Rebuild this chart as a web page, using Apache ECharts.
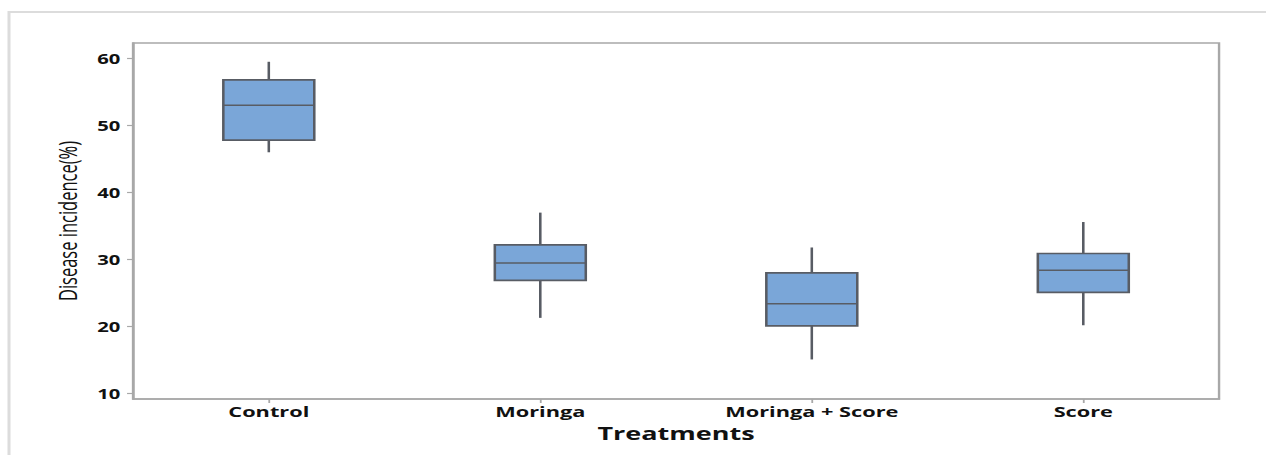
<!DOCTYPE html>
<html>
<head>
<meta charset="utf-8">
<script src="https://cdn.jsdelivr.net/npm/echarts@6/dist/echarts.min.js"></script>
<style>
  html, body { margin: 0; padding: 0; background: #ffffff; overflow: hidden; }
  /* The chart is laid out in a narrower frame and widened horizontally */
  #chart { width: 844px; height: 455px; transform: scaleX(1.5); transform-origin: 0 0; }
</style>
</head>
<body>
<div id="chart"></div>
<script>
// Treatments on the category axis
const categories = ['Control', 'Moringa', 'Moringa + Score', 'Score'];

// Five-number summaries of disease incidence (%) per treatment
const whiskerLow  = [46.0, 21.3, 15.1, 20.2];
const quartile1   = [47.8, 26.9, 20.1, 25.1];
const medians     = [53.0, 29.5, 23.4, 28.4];
const quartile3   = [56.8, 32.2, 28.0, 30.9];
const whiskerHigh = [59.5, 37.0, 31.8, 35.6];

// Y axis tick labels
const yTicks = [10, 20, 30, 40, 50, 60];

const boxData = categories.map((c, i) =>
  [i, whiskerLow[i], quartile1[i], medians[i], quartile3[i], whiskerHigh[i]]);

const chart = echarts.init(document.getElementById('chart'), null, { renderer: 'svg' });

const axisGray = '#a8a8a8';
const edgeGray = '#585c64';

function renderBox(params, api) {
  const idx = api.value(0);
  const pLow = api.coord([idx, api.value(1)]);
  const pQ1 = api.coord([idx, api.value(2)]);
  const pMed = api.coord([idx, api.value(3)]);
  const pQ3 = api.coord([idx, api.value(4)]);
  const pHigh = api.coord([idx, api.value(5)]);
  const w = api.size([1, 0])[0] * 0.335;
  const x = pMed[0];
  const lineStyle = { stroke: edgeGray, lineWidth: 1.7 };
  return {
    type: 'group',
    children: [
      { type: 'line', shape: { x1: x, y1: pHigh[1], x2: x, y2: pQ3[1] }, style: lineStyle },
      { type: 'line', shape: { x1: x, y1: pQ1[1], x2: x, y2: pLow[1] }, style: lineStyle },
      { type: 'rect', shape: { x: x - w / 2, y: pQ3[1], width: w, height: pQ1[1] - pQ3[1] },
        style: { fill: '#7aa6d8', stroke: edgeGray, lineWidth: 1.7 } },
      { type: 'line', shape: { x1: x - w / 2, y1: pMed[1], x2: x + w / 2, y2: pMed[1] },
        style: { stroke: edgeGray, lineWidth: 1.5 } }
    ]
  };
}

chart.setOption({
  animation: false,
  backgroundColor: '#ffffff',
  graphic: [{
    type: 'rect',
    silent: true,
    shape: { x: 6, y: 12, width: 2000, height: 2000 },
    style: { fill: 'none', stroke: '#dcdcdc', lineWidth: 2 }
  }],
  grid: {
    left: 88.7, right: 31.3, top: 43, bottom: 56,
    show: true, borderColor: axisGray, borderWidth: 1.6, backgroundColor: 'transparent'
  },
  xAxis: {
    type: 'category',
    data: categories,
    name: 'Treatments',
    nameLocation: 'middle',
    nameGap: 24,
    nameTextStyle: { fontFamily: 'Open Sans', fontWeight: 'bold', fontSize: 18, color: '#111' },
    axisLine: { show: true, lineStyle: { color: axisGray, width: 1.6 } },
    axisTick: { show: true, alignWithLabel: true, length: 4, lineStyle: { color: axisGray, width: 1.2 } },
    axisLabel: { margin: 5, fontFamily: 'Open Sans', fontWeight: 'bold', fontSize: 14.5, color: '#111' },
    splitLine: { show: false }
  },
  yAxis: {
    type: 'value',
    min: 9.2,
    max: 62.3,
    name: 'Disease incidence(%)',
    nameLocation: 'middle',
    nameGap: 34,
    nameTextStyle: { fontFamily: '"Liberation Sans Narrow", "Open Sans"', fontSize: 16.5, color: '#111' },
    axisLine: { show: true, lineStyle: { color: axisGray, width: 1.6 } },
    axisTick: { show: true, length: 4, customValues: yTicks, lineStyle: { color: axisGray, width: 1.2 } },
    axisLabel: { margin: 8.5, customValues: yTicks, fontFamily: 'Open Sans', fontWeight: 'bold', fontSize: 13.5, color: '#111' },
    splitLine: { show: false }
  },
  series: [{
    type: 'custom',
    renderItem: renderBox,
    encode: { x: 0, y: [1, 2, 3, 4, 5] },
    data: boxData
  }]
});
</script>
</body>
</html>
